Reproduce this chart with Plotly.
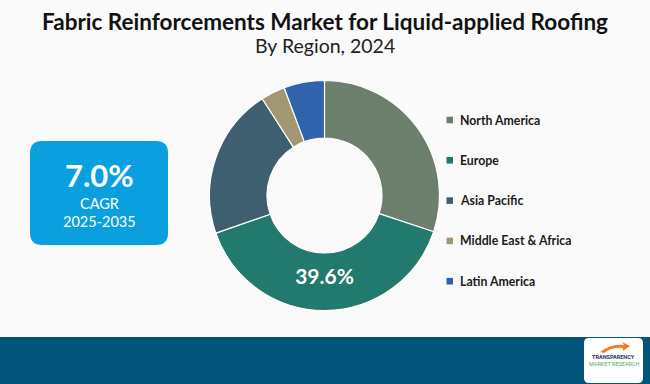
import plotly.graph_objects as go

W, H = 650, 384

regions = ["North America", "Europe", "Asia Pacific", "Middle East & Africa", "Latin America"]
shares = [30.1, 39.6, 21.2, 3.4, 5.7]
colors = ["#6B7F6C", "#217A6D", "#3E5F6F", "#A39673", "#2F63AB"]
slice_labels = ["", "39.6%", "", "", ""]

title_text = "Fabric Reinforcements Market for Liquid-applied Roofing"
subtitle_text = "By Region, 2024"
cagr_value = "7.0%"
cagr_label = "CAGR"
cagr_period = "2025-2035"


def px(x):
    return x / W


def py(y):
    return 1 - y / H


def rounded_rect(x0, y0, x1, y1, r):
    return (
        f"M {px(x0 + r)},{py(y0)} L {px(x1 - r)},{py(y0)} "
        f"Q {px(x1)},{py(y0)} {px(x1)},{py(y0 + r)} "
        f"L {px(x1)},{py(y1 - r)} Q {px(x1)},{py(y1)} {px(x1 - r)},{py(y1)} "
        f"L {px(x0 + r)},{py(y1)} Q {px(x0)},{py(y1)} {px(x0)},{py(y1 - r)} "
        f"L {px(x0)},{py(y0 + r)} Q {px(x0)},{py(y0)} {px(x0 + r)},{py(y0)} Z"
    )


fig = go.Figure()

fig.add_trace(go.Pie(
    labels=regions,
    values=shares,
    marker=dict(colors=colors, line=dict(color="#FFFFFF", width=1.2)),
    hole=0.5,
    sort=False,
    direction="clockwise",
    rotation=0,
    text=slice_labels,
    texttemplate="%{text}",
    textposition="inside",
    insidetextorientation="horizontal",
    textfont=dict(family="Lato", size=21, color="#FFFFFF", weight="bold"),
    showlegend=False,
    hoverinfo="label+percent",
    domain=dict(x=[px(209.5), px(439.5)], y=[py(311), py(80)]),
))

shapes = []
annotations = []


def note(x, y, text, size, color, family="Lato", xanchor="center"):
    annotations.append(dict(x=px(x), y=py(y), xref="paper", yref="paper",
                            xanchor=xanchor, yanchor="middle",
                            text=text, showarrow=False,
                            font=dict(family=family, size=size, color=color)))


# footer band
shapes.append(dict(type="rect", xref="paper", yref="paper",
                   x0=0, x1=1, y0=0, y1=py(337), fillcolor="#03547A",
                   line=dict(width=0), layer="below"))

# logo box
shapes.append(dict(type="path", xref="paper", yref="paper",
                   path=rounded_rect(584, 338, 643, 383, 5),
                   fillcolor="#FFFFFF", line=dict(width=0)))
shapes.append(dict(type="path", xref="paper", yref="paper",
                   path=f"M {px(600)},{py(352)} Q {px(612)},{py(343)} {px(624)},{py(345)} L {px(622)},{py(342)} L {px(630)},{py(346)} L {px(623)},{py(351)} L {px(623)},{py(348)} Q {px(612)},{py(347)} {px(604)},{py(353)} Z",
                   fillcolor="#F47B20", line=dict(width=0)))
note(613.5, 357, "<b>TRANSPARENCY</b>", 5.5, "#1F3864", family="Roboto")
note(613.5, 364, "MARKET RESEARCH", 5.5, "#4CB050", family="Roboto")

# CAGR box
shapes.append(dict(type="path", xref="paper", yref="paper",
                   path=rounded_rect(30, 141, 168, 245, 12),
                   fillcolor="#0AA0E0", line=dict(width=0)))
note(99, 175, f"<b>{cagr_value}</b>", 31, "#FFFFFF")
note(99, 203, cagr_label, 14.5, "#FFFFFF")
note(99, 221, cagr_period, 14.5, "#FFFFFF")

# legend (manual)
legend_y0 = 120
legend_step = 40.3
for i, (name, col) in enumerate(zip(regions, colors)):
    yc = legend_y0 + i * legend_step
    shapes.append(dict(type="rect", xref="paper", yref="paper",
                       x0=px(446.5), x1=px(453), y0=py(yc + 3.3), y1=py(yc - 3.3),
                       fillcolor=col, line=dict(width=0)))
    note(457.5, yc, f"<b>{name}</b>", 12.3, "#1A1A1A", xanchor="left")

# titles
note(325, 22, f"<b>{title_text}</b>", 22.5, "#111111")
note(325, 46, subtitle_text, 19.5, "#222222")

fig.update_layout(
    width=W, height=H,
    margin=dict(l=0, r=0, t=0, b=0),
    paper_bgcolor="#FAFAFA",
    plot_bgcolor="#FAFAFA",
    shapes=shapes,
    annotations=annotations,
)

fig.write_html("out.html", config={"displayModeBar": False},
               post_script="document.body.style.margin='0';document.body.style.overflow='hidden';")
